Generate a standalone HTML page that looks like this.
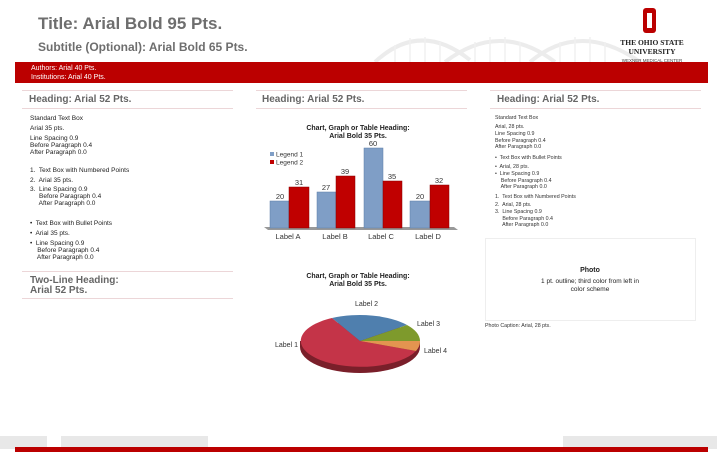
<!DOCTYPE html>
<html><head><meta charset="utf-8"><style>
body{margin:0;width:719px;height:462px;background:#fff;position:relative;overflow:hidden;font-family:"Liberation Sans",Arial,sans-serif}
.a{position:absolute;white-space:nowrap}
.s{font-size:6.5px;color:#222;line-height:7px}
.r{font-size:5.3px;color:#333;line-height:6.5px}
.h{font-size:10px;font-weight:bold;color:#666}
.ln{position:absolute;height:1px;background:#ecd6d8}
</style></head><body>
<svg class="a" style="left:0;top:0" width="719" height="462">
<g fill="none" stroke="#ececec" stroke-width="4">
<path d="M375 62 Q420 20 470 60"/><path d="M445 62 Q500 20 555 62"/><path d="M530 62 Q580 20 640 62"/>
</g>
<g stroke="#f0f0f0" stroke-width="1.5">
<line x1="395" y1="62" x2="395" y2="45"/><line x1="410" y1="62" x2="410" y2="38"/><line x1="425" y1="62" x2="425" y2="37"/><line x1="440" y1="62" x2="440" y2="42"/>
<line x1="475" y1="62" x2="475" y2="42"/><line x1="490" y1="62" x2="490" y2="37"/><line x1="505" y1="62" x2="505" y2="37"/><line x1="520" y1="62" x2="520" y2="42"/>
<line x1="560" y1="62" x2="560" y2="42"/><line x1="575" y1="62" x2="575" y2="37"/><line x1="590" y1="62" x2="590" y2="37"/><line x1="605" y1="62" x2="605" y2="42"/>
</g>
<rect x="15" y="62" width="693" height="21" fill="#bb0000"/>
<rect x="643" y="8" width="13" height="25" rx="3" fill="#bb0000"/><rect x="647" y="13" width="5" height="15" fill="#fff"/>
<polygon points="264,227 454,227 458,230 268,230" fill="#999"/>
<g fill="#7f9ec6" stroke="#5d7ea8" stroke-width=".5">
<rect x="270" y="201" width="19" height="27"/><rect x="317" y="192" width="19" height="36"/><rect x="364" y="148" width="19" height="80"/><rect x="410" y="201" width="20" height="27"/>
</g>
<g fill="#c00000" stroke="#800" stroke-width=".5">
<rect x="289" y="187" width="20" height="41"/><rect x="336" y="176" width="19" height="52"/><rect x="383" y="181" width="19" height="47"/><rect x="430" y="185" width="19" height="43"/>
</g>
<g font-size="7.5" fill="#333" text-anchor="middle">
<text x="280" y="199">20</text><text x="299" y="185">31</text><text x="326" y="190">27</text><text x="345" y="174">39</text>
<text x="373" y="146">60</text><text x="392" y="179">35</text><text x="420" y="199">20</text><text x="439" y="183">32</text>
<text x="288" y="239">Label A</text><text x="335" y="239">Label B</text><text x="381" y="239">Label C</text><text x="428" y="239">Label D</text>
</g>
<rect x="270" y="152" width="4" height="4" fill="#7f9ec6"/><rect x="270" y="160" width="4" height="4" fill="#c00000"/>
<text x="276" y="156.5" font-size="6.5" fill="#333">Legend 1</text><text x="276" y="164.5" font-size="6.5" fill="#333">Legend 2</text>
<g font-size="7" font-weight="bold" fill="#222" text-anchor="middle"><text x="358" y="130">Chart, Graph or Table Heading:</text><text x="358" y="138">Arial Bold 35 Pts.</text>
<text x="358" y="278">Chart, Graph or Table Heading:</text><text x="358" y="286">Arial Bold 35 Pts.</text></g>
<ellipse cx="360" cy="347" rx="60" ry="26" fill="#7a1f2a"/>
<rect x="300" y="341" width="120" height="6" fill="#7a1f2a"/>
<path d="M360 341 L332 318 A60 26 0 1 0 416 351 Z" fill="#c43448"/>
<path d="M360 341 L332 318 A60 26 0 0 1 407 325 Z" fill="#4f7fae"/>
<path d="M360 341 L407 325 A60 26 0 0 1 420 341 Z" fill="#7e9a2c"/>
<path d="M360 341 L420 341 A60 26 0 0 1 416 351 Z" fill="#e39450"/>
<g font-size="7" fill="#333"><text x="355" y="306">Label 2</text><text x="417" y="326">Label 3</text><text x="275" y="347">Label 1</text><text x="424" y="353">Label 4</text></g>
<rect x="485.5" y="238.5" width="210" height="82" fill="none" stroke="#eee"/>
<rect x="0" y="436" width="47" height="13" fill="#e8e8e8"/><rect x="61" y="436" width="147" height="13" fill="#e8e8e8"/><rect x="563" y="436" width="154" height="13" fill="#e8e8e8"/>
<rect x="15" y="447" width="693" height="5" fill="#bb0000"/>
</svg>
<div class="a" style="left:38px;top:14px;font-size:17px;font-weight:bold;color:#6e6e6e">Title: Arial Bold 95 Pts.</div>
<div class="a" style="left:38px;top:40px;font-size:12px;font-weight:bold;color:#6e6e6e">Subtitle (Optional): Arial Bold 65 Pts.</div>
<div class="a" style="left:31px;top:64px;font-size:7px;color:#fff;line-height:9px">Authors: Arial 40 Pts.<br>Institutions: Arial 40 Pts.</div>
<div class="a" style="left:614px;top:38px;width:76px;text-align:center;font-family:'Liberation Serif',serif;font-weight:bold;font-size:7.5px;line-height:9px;color:#222">THE OHIO STATE<br>UNIVERSITY</div>
<div class="a" style="left:614px;top:58px;width:76px;text-align:center;font-size:4.5px;color:#444">WEXNER MEDICAL CENTER</div>
<div class="ln" style="left:22px;top:90px;width:211px"></div><div class="ln" style="left:22px;top:108px;width:211px"></div>
<div class="ln" style="left:256px;top:90px;width:211px"></div><div class="ln" style="left:256px;top:108px;width:211px"></div>
<div class="ln" style="left:490px;top:90px;width:211px"></div><div class="ln" style="left:490px;top:108px;width:211px"></div>
<div class="ln" style="left:22px;top:271px;width:211px"></div><div class="ln" style="left:22px;top:298px;width:211px"></div>
<div class="a h" style="left:29px;top:94px">Heading: Arial 52 Pts.</div>
<div class="a h" style="left:262px;top:94px">Heading: Arial 52 Pts.</div>
<div class="a h" style="left:497px;top:94px">Heading: Arial 52 Pts.</div>
<div class="a h" style="left:30px;top:276px;line-height:10px">Two-Line Heading:<br>Arial 52 Pts.</div>
<div class="a s" style="left:30px;top:115px">Standard Text Box</div>
<div class="a s" style="left:30px;top:125px">Arial 35 pts.</div>
<div class="a s" style="left:30px;top:135px">Line Spacing 0.9<br>Before Paragraph 0.4<br>After Paragraph 0.0</div>
<div class="a s" style="left:30px;top:167px">1.&nbsp; Text Box with Numbered Points</div>
<div class="a s" style="left:30px;top:177px">2.&nbsp; Arial 35 pts.</div>
<div class="a s" style="left:30px;top:186px">3.&nbsp; Line Spacing 0.9<br>&nbsp;&nbsp;&nbsp;&nbsp; Before Paragraph 0.4<br>&nbsp;&nbsp;&nbsp;&nbsp; After Paragraph 0.0</div>
<div class="a s" style="left:30px;top:220px">•&nbsp; Text Box with Bullet Points</div>
<div class="a s" style="left:30px;top:230px">•&nbsp; Arial 35 pts.</div>
<div class="a s" style="left:30px;top:240px">•&nbsp; Line Spacing 0.9<br>&nbsp;&nbsp;&nbsp; Before Paragraph 0.4<br>&nbsp;&nbsp;&nbsp; After Paragraph 0.0</div>
<div class="a r" style="left:495px;top:115px">Standard Text Box</div>
<div class="a r" style="left:495px;top:124px">Arial, 28 pts.</div>
<div class="a r" style="left:495px;top:131px">Line Spacing 0.9<br>Before Paragraph 0.4<br>After Paragraph 0.0</div>
<div class="a r" style="left:495px;top:155px">•&nbsp; Text Box with Bullet Points</div>
<div class="a r" style="left:495px;top:164px">•&nbsp; Arial, 28 pts.</div>
<div class="a r" style="left:495px;top:171px">•&nbsp; Line Spacing 0.9<br>&nbsp;&nbsp;&nbsp; Before Paragraph 0.4<br>&nbsp;&nbsp;&nbsp; After Paragraph 0.0</div>
<div class="a r" style="left:495px;top:194px">1.&nbsp; Text Box with Numbered Points</div>
<div class="a r" style="left:495px;top:202px">2.&nbsp; Arial, 28 pts.</div>
<div class="a r" style="left:495px;top:209px">3.&nbsp; Line Spacing 0.9<br>&nbsp;&nbsp;&nbsp;&nbsp; Before Paragraph 0.4<br>&nbsp;&nbsp;&nbsp;&nbsp; After Paragraph 0.0</div>
<div class="a" style="left:485px;top:267px;width:210px;text-align:center;font-size:7px;font-weight:bold;color:#222">Photo</div>
<div class="a" style="left:485px;top:278px;width:210px;text-align:center;font-size:6.5px;color:#222;line-height:7.5px;white-space:normal">1 pt. outline; third color from left in<br>color scheme</div>
<div class="a r" style="left:485px;top:323px">Photo Caption: Arial, 28 pts.</div>
</body></html>
